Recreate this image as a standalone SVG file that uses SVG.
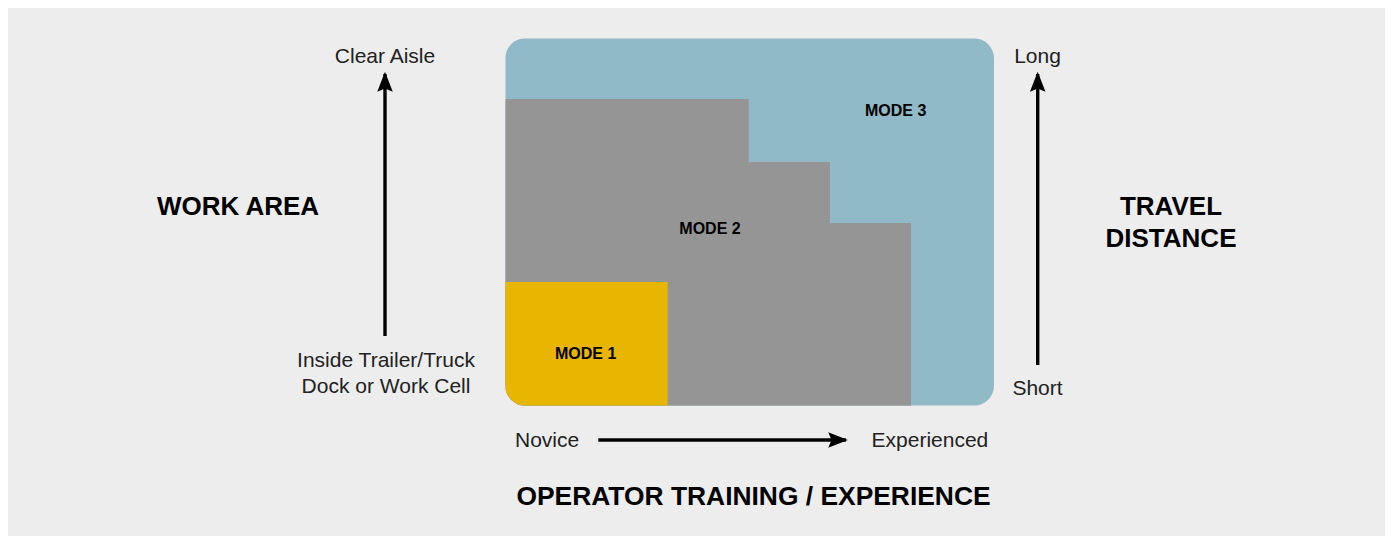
<svg xmlns="http://www.w3.org/2000/svg" width="1391" height="536" viewBox="0 0 1391 536">
  <defs>
    <style>
      .lbl { font-family: "Liberation Sans", Arial, Helvetica, sans-serif; font-size: 21px; fill: #222; }
      .ttl { font-family: "Liberation Sans", Arial, Helvetica, sans-serif; font-size: 26px; font-weight: bold; fill: #000; }
      .mode { font-family: "Liberation Sans", Arial, Helvetica, sans-serif; font-size: 16px; font-weight: bold; fill: #000; }
      .axis { stroke: #000; stroke-width: 3.4; fill: none; }
    </style>
    <marker id="ah" markerUnits="userSpaceOnUse" markerWidth="20" markerHeight="16" viewBox="0 0 18 14" refX="16" refY="7" orient="auto">
      <path d="M0,0 L18,7 L0,14 L3,7 Z" fill="#000"/>
    </marker>
    <clipPath id="chartClip">
      <rect x="505.3" y="38.3" width="488.7" height="367.4" rx="20" ry="20"/>
    </clipPath>
  </defs>

  <rect x="0" y="0" width="1391" height="536" fill="#ffffff"/>
  <rect x="8" y="8" width="1377" height="528" fill="#ededed"/>

  <g id="chart" clip-path="url(#chartClip)">
    <g id="mode3">
      <rect x="505.3" y="38.3" width="488.7" height="367.4" fill="#91bac8"/>
    </g>
    <g id="mode2">
      <path d="M505.3,99 L748.7,99 L748.7,162 L830,162 L830,223 L911,223 L911,405.7 L505.3,405.7 Z" fill="#959595"/>
    </g>
    <g id="mode1">
      <rect x="505.3" y="282" width="162.4" height="123.7" fill="#e8b500"/>
    </g>
  </g>

  <g id="mode-labels">
    <text class="mode" x="895.7" y="115.7" text-anchor="middle">MODE 3</text>
    <text class="mode" x="710" y="234" text-anchor="middle">MODE 2</text>
    <text class="mode" x="585.7" y="359" text-anchor="middle">MODE 1</text>
  </g>

  <g id="connectors">
    <line class="axis" x1="385" y1="336" x2="385" y2="74" marker-end="url(#ah)"/>
    <line class="axis" x1="1037.7" y1="365" x2="1037.7" y2="74" marker-end="url(#ah)"/>
    <line class="axis" x1="598.3" y1="440" x2="846" y2="440" marker-end="url(#ah)"/>
  </g>

  <g id="work-area">
    <text class="ttl" x="238" y="215" text-anchor="middle">WORK AREA</text>
    <text class="lbl" x="385" y="62.7" text-anchor="middle">Clear Aisle</text>
    <text class="lbl" x="386" y="366.7" text-anchor="middle">Inside Trailer/Truck</text>
    <text class="lbl" x="386" y="392.7" text-anchor="middle">Dock or Work Cell</text>
  </g>

  <g id="travel-distance">
    <text class="ttl" x="1171" y="215" text-anchor="middle">TRAVEL</text>
    <text class="ttl" x="1171" y="246.7" text-anchor="middle">DISTANCE</text>
    <text class="lbl" x="1037.5" y="63.3" text-anchor="middle">Long</text>
    <text class="lbl" x="1037.5" y="395" text-anchor="middle">Short</text>
  </g>

  <g id="operator-training">
    <text class="lbl" x="515" y="446.7">Novice</text>
    <text class="lbl" x="988.3" y="446.7" text-anchor="end">Experienced</text>
    <text class="ttl" x="753.5" y="505" text-anchor="middle" style="font-size:26.4px">OPERATOR TRAINING / EXPERIENCE</text>
  </g>
</svg>
